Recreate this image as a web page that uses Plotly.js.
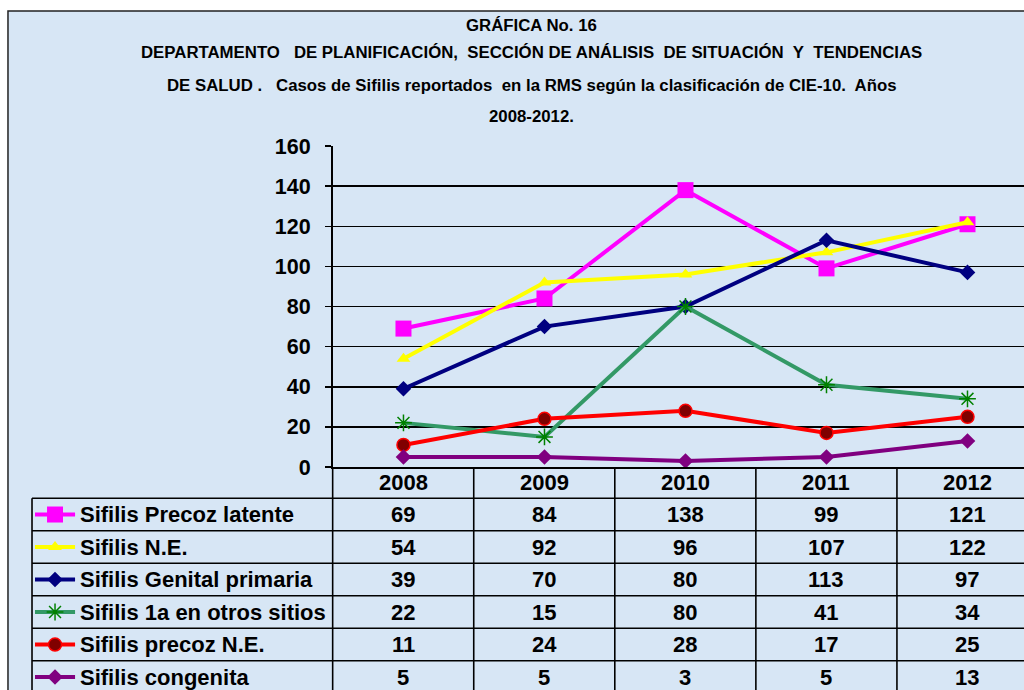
<!DOCTYPE html>
<html><head><meta charset="utf-8">
<script src="https://cdn.plot.ly/plotly-3.0.1.min.js"></script>
<style>html,body{margin:0;padding:0;background:#fff;overflow:hidden}#chart{width:1024px;height:690px}</style>
</head><body><div id="chart"></div>
<script>
// ---- data ----
const years = ['2008', '2009', '2010', '2011', '2012'];
const seriesNames = ['Sifilis Precoz latente', 'Sifilis N.E.', 'Sifilis Genital primaria', 'Sifilis 1a en otros sitios', 'Sifilis precoz N.E.', 'Sifilis congenita'];
const precozLatente = [69, 84, 138, 99, 121];
const sifilisNE = [54, 92, 96, 107, 122];
const genitalPrimaria = [39, 70, 80, 113, 97];
const primariaOtrosSitios = [22, 15, 80, 41, 34];
const precozNE = [11, 24, 28, 17, 25];
const congenita = [5, 5, 3, 5, 13];
const yTickVals = [0, 20, 40, 60, 80, 100, 120, 140, 160];
const titleLines = [
  'GRÁFICA No. 16',
  'DEPARTAMENTO\u00a0\u00a0 DE PLANIFICACIÓN,\u00a0 SECCIÓN DE ANÁLISIS\u00a0 DE SITUACIÓN\u00a0 Y\u00a0 TENDENCIAS',
  'DE SALUD .\u00a0\u00a0 Casos de Sifilis reportados\u00a0 en la RMS según la clasificación de CIE-10.\u00a0 Años',
  '2008-2012.'
];
const seriesValues = [precozLatente, sifilisNE, genitalPrimaria, primariaOtrosSitios, precozNE, congenita];

// ---- styles ----
const FONT = 'Liberation Sans, Arial, sans-serif';
const styles = [
  {line: '#FF00FF', symbol: 'square', size: 16, fill: '#FF00FF', mline: '#FF00FF', mlw: 0},
  {line: '#FFFF00', symbol: 'triangle-up', size: 12, fill: '#FFFF00', mline: '#FFFF00', mlw: 0},
  {line: '#000080', symbol: 'diamond', size: 12, fill: '#000080', mline: '#000080', mlw: 0},
  {line: '#339966', symbol: 'asterisk-open', size: 14, fill: '#008000', mline: '#008000', mlw: 1.5},
  {line: '#FF0000', symbol: 'circle', size: 13, fill: '#800000', mline: '#FF0000', mlw: 1.5},
  {line: '#800080', symbol: 'diamond', size: 12, fill: '#800080', mline: '#800080', mlw: 0}
];

const traces = [];
seriesValues.forEach((vals, i) => {
  const s = styles[i];
  traces.push({
    type: 'scatter', mode: 'lines+markers', name: seriesNames[i],
    x: years, y: vals, xaxis: 'x', yaxis: 'y', cliponaxis: false, showlegend: false,
    line: {color: s.line, width: 4},
    marker: {symbol: s.symbol, size: s.size, color: s.fill, line: {color: s.mline, width: s.mlw}}
  });
});
// legend keys inside the data table (one per series row)
const KEY_X = [-2.61, -2.468, -2.326];
seriesNames.forEach((nm, i) => {
  const s = styles[i];
  traces.push({
    type: 'scatter', mode: 'lines+markers', name: nm + ' (clave)',
    x: KEY_X, y: [i, i, i], xaxis: 'x2', yaxis: 'y2', cliponaxis: false, showlegend: false, hoverinfo: 'skip',
    line: {color: s.line, width: 4},
    marker: {symbol: s.symbol, size: s.size, color: s.fill, opacity: [0, 1, 0], line: {color: s.mline, width: s.mlw}}
  });
});

const annotations = [];
const titleY = [1.2224, 1.1710, 1.1121, 1.0551];
titleLines.forEach((t, j) => {
  annotations.push({xref: 'paper', yref: 'paper', x: 0.506, y: titleY[j], xanchor: 'center', yanchor: 'middle',
    text: '<b>' + t + '</b>', showarrow: false, font: {family: FONT, size: 16.8, color: '#000'}});
});
years.forEach((yr, k) => {
  annotations.push({xref: 'x2', yref: 'y2', x: k, y: -1, text: '<b>' + yr + '</b>', showarrow: false,
    xanchor: 'center', yanchor: 'middle', font: {family: FONT, size: 22, color: '#000'}});
});
seriesNames.forEach((nm, i) => {
  annotations.push({xref: 'x2', yref: 'y2', x: -2.305, y: i, text: '<b>' + nm + '</b>', showarrow: false,
    xanchor: 'left', yanchor: 'middle', font: {family: FONT, size: 22, color: '#000'}});
  seriesValues[i].forEach((v, k) => {
    annotations.push({xref: 'x2', yref: 'y2', x: k, y: i, text: '<b>' + v + '</b>', showarrow: false,
      xanchor: 'center', yanchor: 'middle', font: {family: FONT, size: 22, color: '#000'}});
  });
});

const shapes = [];
// outer chart frame and background
shapes.push({type: 'rect', xref: 'paper', yref: 'paper', x0: -0.0201, x1: 1.06, y0: -0.05, y1: 1.2482,
  fillcolor: '#d7e6f5', line: {color: '#222', width: 1.5}, layer: 'below'});
// table grid
const TL = -2.6312, TR = 4.6;
for (let r = 0; r <= seriesNames.length; r++) {
  shapes.push({type: 'line', xref: 'x2', yref: 'y2', x0: TL, x1: TR, y0: r - 0.5, y1: r - 0.5, line: {color: '#000', width: 1.6}});
}
shapes.push({type: 'line', xref: 'x2', yref: 'y2', x0: TL, x1: TL, y0: -0.5, y1: 6, line: {color: '#000', width: 1.6}});
for (let k = 0; k <= years.length; k++) {
  shapes.push({type: 'line', xref: 'x2', yref: 'y2', x0: k - 0.5, x1: k - 0.5, y0: -1.4615, y1: 6, line: {color: '#000', width: 1.6}});
}

const layout = {
  width: 1024, height: 690,
  margin: {l: 28, r: 0, t: 146, b: 0, pad: 0},
  paper_bgcolor: '#ffffff', plot_bgcolor: 'rgba(0,0,0,0)',
  showlegend: false,
  font: {family: FONT, color: '#000'},
  xaxis: {domain: [0.3062, 1], anchor: 'y', type: 'category', categoryorder: 'array', categoryarray: years,
    range: [-0.5, 4.4007], showline: true, linecolor: '#000', linewidth: 2, showticklabels: false, ticks: '',
    showgrid: false, zeroline: false, fixedrange: true},
  yaxis: {domain: [0.4099, 1], anchor: 'x', range: [0, 160], tickvals: yTickVals, ticktext: yTickVals.map(String),
    showgrid: true, gridcolor: '#000', gridwidth: 1.5, showline: true, linecolor: '#000', linewidth: 2,
    ticks: 'outside', ticklen: 6, tickwidth: 1.5, tickcolor: '#000', ticklabelstandoff: 10, zeroline: false,
    tickfont: {family: FONT, size: 21.5, color: '#000', weight: 'bold'}, fixedrange: true},
  xaxis2: {domain: [0, 1], anchor: 'y2', range: [-2.6596, 4.4007], visible: false, fixedrange: true},
  yaxis2: {domain: [0, 0.4099], anchor: 'x2', range: [5.4, -1.4615], visible: false, fixedrange: true},
  annotations: annotations,
  shapes: shapes
};

Plotly.newPlot('chart', traces, layout, {displayModeBar: false, staticPlot: true});
</script>
</body></html>
